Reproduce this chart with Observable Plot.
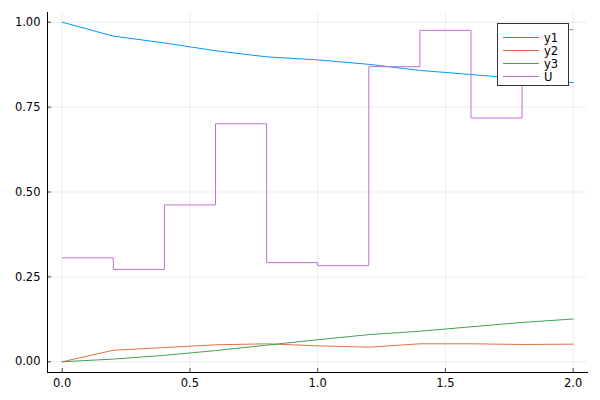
<!DOCTYPE html>
<html>
<head>
<meta charset="utf-8">
<script src="https://cdn.jsdelivr.net/npm/d3@7"></script>
<script src="https://cdn.jsdelivr.net/npm/@observablehq/plot@0.6"></script>
<style>
  html, body { margin: 0; padding: 0; background: #fff; }
  #wrap { position: relative; width: 600px; height: 400px; font-family: "DejaVu Sans", sans-serif; }
  #legend { position: absolute; left: 497px; top: 23px; width: 72px; height: 63px; border: 1px solid #333; background: #fff; box-sizing: border-box; font-size: 11.5px; }
  .row { position: absolute; left: 5px; height: 13px; display: flex; align-items: center; }
  .row span.sw { display: inline-block; width: 36px; height: 0; border-top: 1px solid; margin-right: 5px; }
</style>
</head>
<body>
<div id="wrap"></div>
<script>
const t = [0, 0.2, 0.4, 0.6, 0.8, 1.0, 1.2, 1.4, 1.6, 1.8, 2.0];
const y1 = [1.0, 0.959, 0.939, 0.916, 0.898, 0.889, 0.876, 0.858, 0.846, 0.834, 0.822];
const y2 = [0.0, 0.034, 0.042, 0.050, 0.053, 0.047, 0.043, 0.053, 0.053, 0.051, 0.052];
const y3 = [0.0, 0.008, 0.019, 0.033, 0.049, 0.065, 0.080, 0.090, 0.103, 0.116, 0.126];
const U  = [0.306, 0.272, 0.462, 0.701, 0.292, 0.283, 0.869, 0.976, 0.718, 0.978, 0.978];
const seriesNames = ["y1", "y2", "y3", "U"];
const colors = ["#009AFA", "#E36F47", "#3EA44E", "#C371D2"];
const xTicks = [0, 0.5, 1.0, 1.5, 2.0];
const yTicks = [0, 0.25, 0.5, 0.75, 1.0];

const rows = [];
[y1, y2, y3].forEach((arr, i) => arr.forEach((v, j) => rows.push({series: seriesNames[i], t: t[j], v})));
const uRows = U.map((v, j) => ({series: "U", t: t[j], v}));

const chart = Plot.plot({
  width: 600,
  height: 400,
  marginLeft: 47,
  marginRight: 13,
  marginTop: 12,
  marginBottom: 28,
  style: {fontFamily: "DejaVu Sans, sans-serif", fontSize: "11.5px", color: "#000", background: "#fff"},
  x: {domain: [-0.0575, 2.056], label: null},
  y: {domain: [-0.0315, 1.0286], label: null},
  color: {domain: seriesNames, range: colors},
  marks: [
    Plot.gridX(xTicks, {stroke: "#000", strokeOpacity: 0.07, strokeWidth: 1}),
    Plot.gridY(yTicks, {stroke: "#000", strokeOpacity: 0.07, strokeWidth: 1}),
    Plot.lineY(rows, {x: "t", y: "v", z: "series", stroke: "series", strokeWidth: 1}),
    Plot.lineY(uRows, {x: "t", y: "v", stroke: "series", strokeWidth: 1, curve: "step-after"}),
    Plot.axisX({ticks: xTicks, tickFormat: d3.format(".1f"), tickSize: -4, tickPadding: 10, label: null, stroke: "#000", strokeOpacity: 0.7}),
    Plot.axisY({ticks: yTicks, tickFormat: d3.format(".2f"), tickSize: -4, tickPadding: 11, label: null, stroke: "#000", strokeOpacity: 0.7}),
    Plot.frame({anchor: "left", stroke: "#000", strokeWidth: 1}),
    Plot.frame({anchor: "bottom", stroke: "#000", strokeWidth: 1})
  ]
});
document.getElementById("wrap").appendChild(chart);

const legend = document.createElement("div");
legend.id = "legend";
seriesNames.forEach((name, i) => {
  const r = document.createElement("div");
  r.className = "row";
  r.style.top = (7 + i * 13) + "px";
  r.innerHTML = `<span class="sw" style="border-color:${colors[i]}"></span><span>${name}</span>`;
  legend.appendChild(r);
});
document.getElementById("wrap").appendChild(legend);
</script>
</body>
</html>
